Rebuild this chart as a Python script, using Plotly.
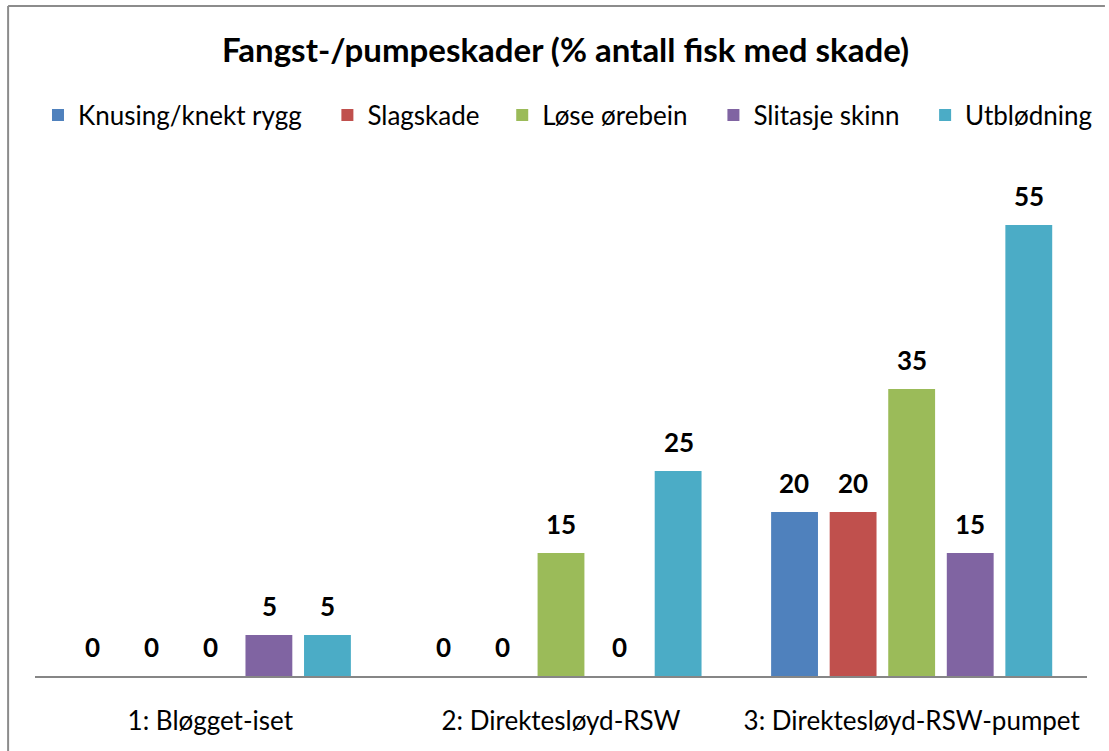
import plotly.graph_objects as go

categories = ["1: Bløgget-iset", "2: Direktesløyd-RSW", "3: Direktesløyd-RSW-pumpet"]
series_names = ["Knusing/knekt rygg", "Slagskade", "Løse ørebein", "Slitasje skinn", "Utblødning"]
knusing = [0, 0, 20]
slagskade = [0, 0, 20]
lose_orebein = [0, 15, 35]
slitasje = [5, 0, 15]
utblodning = [5, 25, 55]
colors = ["#4F81BD", "#C0504D", "#9BBB59", "#8064A2", "#4BACC6"]

FONT = "Lato"
values = [knusing, slagskade, lose_orebein, slitasje, utblodning]

W, H = 1109, 751
L, R, T, B = 35, 18, 184, 75
pw, ph = W - L - R, H - T - B
BARGAP, BARGROUPGAP = 0.165, 0.2


def px_to_paper_x(px):
    return (px - L) / pw


def px_to_paper_y(py):
    return (H - B - py) / ph


# legend entry square centres (pixels) as in the reference layout
legend_square_centres = [58, 348.5, 524, 736, 948.5]
legend_names = ["legend"] + [f"legend{i}" for i in range(2, 6)]

fig = go.Figure()
for name, vals, col, lg in zip(series_names, values, colors, legend_names):
    fig.add_trace(go.Bar(
        x=categories, y=vals, name=name,
        marker=dict(color=col, line=dict(width=0)),
        legend=lg,
    ))

# data labels placed above each bar (offset within the group like the bars)
n = len(series_names)
slot_px = pw / len(categories) * (1 - BARGAP) / n
annotations = []
for i, vals in enumerate(values):
    for cat, v in zip(categories, vals):
        annotations.append(dict(
            x=cat, y=v, xref="x", yref="y",
            text=f"<b>{v}</b>", showarrow=False,
            xshift=(i - (n - 1) / 2) * slot_px, yshift=11,
            yanchor="bottom", xanchor="center",
            font=dict(family=FONT, size=26, color="black"),
        ))

legend_layouts = {}
for lg, cx in zip(legend_names, legend_square_centres):
    legend_layouts[lg] = dict(
        orientation="h", x=px_to_paper_x(cx - 20), xanchor="left",
        y=px_to_paper_y(115), yanchor="middle",
        font=dict(family=FONT, size=26, color="black"),
        bgcolor="rgba(0,0,0,0)", borderwidth=0,
        itemclick=False, itemdoubleclick=False,
    )

fig.update_layout(
    width=W, height=H,
    margin=dict(l=L, r=R, t=T, b=B),
    paper_bgcolor="white", plot_bgcolor="white",
    barmode="group", bargap=BARGAP, bargroupgap=BARGROUPGAP,
    showlegend=True,
    font=dict(family=FONT, color="black"),
    title=dict(text="<b>Fangst-/pumpeskader (% antall fisk med skade)</b>",
               x=565.5 / W, xanchor="center", y=1 - 50 / H, yanchor="middle",
               font=dict(family=FONT, size=33, color="black")),
    xaxis=dict(showline=True, linecolor="#868686", linewidth=2,
               ticks="", tickfont=dict(family=FONT, size=26, color="black"),
               ticklabelstandoff=21),
    yaxis=dict(range=[0, 60], visible=False, showgrid=False, zeroline=False),
    annotations=annotations,
    shapes=[
        dict(type="line", xref="paper", yref="paper",
             x0=px_to_paper_x(8), x1=px_to_paper_x(1109),
             y0=px_to_paper_y(6), y1=px_to_paper_y(6),
             line=dict(color="#8c8c8c", width=2)),
        dict(type="line", xref="paper", yref="paper",
             x0=px_to_paper_x(8), x1=px_to_paper_x(8),
             y0=px_to_paper_y(6), y1=px_to_paper_y(751),
             line=dict(color="#8c8c8c", width=2)),
    ],
    **legend_layouts,
)

fig.write_html("out.html", config={"displayModeBar": False},
               post_script="document.body.style.margin='0';")
